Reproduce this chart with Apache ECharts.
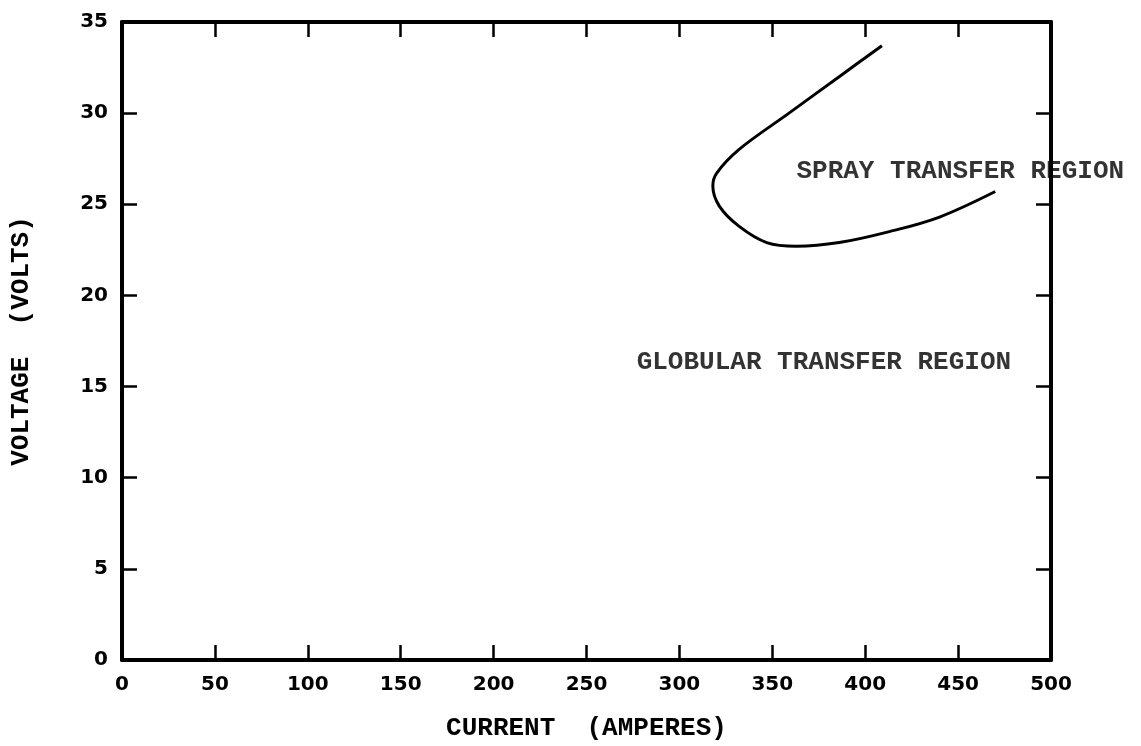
<!DOCTYPE html>
<html>
<head>
<meta charset="utf-8">
<script src="https://cdn.jsdelivr.net/npm/echarts@6/dist/echarts.min.js"></script>
<style>html,body{margin:0;padding:0;background:#fff}#c{width:1141px;height:746px}</style>
</head>
<body>
<div id="c"></div>
<script>
// Boundary curve between globular and spray transfer (current A, voltage V)
const curveCurrent = [409, 386, 359, 332, 320, 318, 321.5, 332, 347, 363, 386, 413, 440, 470];
const curveVoltage = [33.7, 32.0, 30.0, 28.0, 26.7, 26.0, 24.9, 23.8, 22.9, 22.7, 22.9, 23.5, 24.3, 25.7];

// Region annotations (data coordinates of text start)
const regionNames = ['SPRAY TRANSFER REGION', 'GLOBULAR TRANSFER REGION'];
const regionCurrent = [363, 277];
const regionVoltage = [26.8, 16.3];

const xTicks = [0, 50, 100, 150, 200, 250, 300, 350, 400, 450, 500];
const yTicks = [0, 5, 10, 15, 20, 25, 30, 35];

const xName = 'CURRENT  (AMPERES)';
const yName = 'VOLTAGE  (VOLTS)';

const tickFont = { fontFamily: 'DejaVu Sans', fontWeight: 'bold', fontSize: 20, color: '#000' };
const typeFont = { fontFamily: 'Liberation Mono', fontWeight: 'bold', fontSize: 26, color: '#000' };

const chart = echarts.init(document.getElementById('c'), null, { renderer: 'canvas' });
const axisLineStyle = { show: true, onZero: false, lineStyle: { color: '#000', width: 4 } };
const tickStyle = { show: true, inside: true, length: 15, lineStyle: { color: '#000', width: 2.5 } };

chart.setOption({
  backgroundColor: '#fff',
  animation: false,
  grid: { left: 121, right: 90, top: 22, bottom: 85, show: false },
  xAxis: [
    {
      type: 'value', min: xTicks[0], max: xTicks[xTicks.length - 1], interval: 50,
      position: 'bottom',
      axisLine: axisLineStyle, axisTick: tickStyle,
      axisLabel: Object.assign({ margin: 15 }, tickFont),
      splitLine: { show: false },
      name: xName, nameLocation: 'middle', nameGap: 55,
      nameTextStyle: typeFont
    },
    {
      type: 'value', min: xTicks[0], max: xTicks[xTicks.length - 1], interval: 50,
      position: 'top',
      axisLine: axisLineStyle, axisTick: tickStyle,
      axisLabel: { show: false }, splitLine: { show: false }
    }
  ],
  yAxis: [
    {
      type: 'value', min: yTicks[0], max: yTicks[yTicks.length - 1], interval: 5,
      position: 'left',
      axisLine: axisLineStyle, axisTick: tickStyle,
      axisLabel: Object.assign({ margin: 14 }, tickFont),
      splitLine: { show: false },
      name: yName, nameLocation: 'middle', nameGap: 88, nameRotate: 90,
      nameTextStyle: typeFont
    },
    {
      type: 'value', min: yTicks[0], max: yTicks[yTicks.length - 1], interval: 5,
      position: 'right',
      axisLine: axisLineStyle, axisTick: tickStyle,
      axisLabel: { show: false }, splitLine: { show: false }
    }
  ],
  series: [
    {
      type: 'line',
      data: curveCurrent.map((x, i) => [x, curveVoltage[i]]),
      smooth: 0.35,
      showSymbol: false,
      symbol: 'none',
      lineStyle: { color: '#000', width: 3 },
      silent: true
    },
    {
      type: 'scatter',
      symbolSize: 0,
      data: regionNames.map((n, i) => ({ value: [regionCurrent[i], regionVoltage[i]], name: n })),
      label: Object.assign({
        show: true, position: 'right', distance: 0,
        formatter: p => p.name
      }, typeFont),
      silent: true
    }
  ]
});
</script>
</body>
</html>
